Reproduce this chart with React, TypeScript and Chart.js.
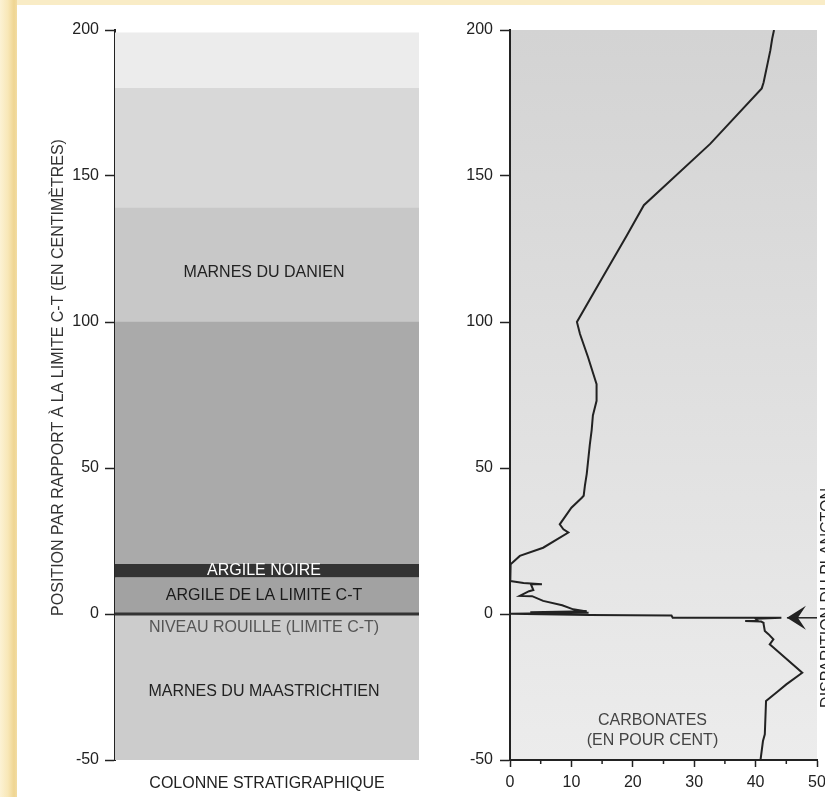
import React, { useEffect, useRef } from 'react';
import { Chart, registerables } from 'chart.js';

Chart.register(...registerables);

// ---------- DATA ----------
// Stratigraphic column bands (position in cm relative to the C-T boundary)
const bandNames = [
  'Marnes du Maastrichtien',
  'Argile de la limite C-T',
  'Argile noire',
  'Danien basal',
  'Marnes du Danien',
  'Danien moyen',
  'Danien supérieur',
];
const bandBottom = [-50, 0, 12.5, 17, 100, 139, 180];
const bandTop = [0, 12.5, 17, 100, 139, 180, 199];

const columnLabels = [
  'MARNES DU DANIEN',
  'ARGILE NOIRE',
  'ARGILE DE LA LIMITE C-T',
  'NIVEAU ROUILLE (LIMITE C-T)',
  'MARNES DU MAASTRICHTIEN',
];
const columnLabelPos = [117, 14.7, 6.2, -4.5, -26.6];

const columnCategory = ['COLONNE STRATIGRAPHIQUE'];
const positionTitle = 'POSITION PAR RAPPORT À LA LIMITE C-T (EN CENTIMÈTRES)';
const positionTitlePos = 81;

// Carbonate curve (position cm, carbonate %)
const carbonatePos = [
  200, 197, 193, 189, 185, 182, 180, 161, 140, 129.5, 114.6, 100, 95.9, 88, 82, 78.7,
  73, 68, 63, 58, 52, 48, 44, 40.5, 39.8, 36.4, 30.7, 29.0, 27.9, 22.7, 19.9, 17.0,
  11.5, 11.3, 10.6, 10.2, 10.2, 8.2, 7.8, 6.2, 6.1, 4.5, 3.0, 1.6, 0.9, 0.6, 0.45,
  0.1, -0.3, -0.5, -1.3, -1.3, -1.6, -2.4, -2.4, -2.6, -3.0, -3.4, -5.8, -6.9, -8.7,
  -10.4, -11.5, -20.1, -24.1, -26.4, -29.8, -41.2, -43.5, -50,
];
const carbonatePct = [
  43.0, 42.7, 42.4, 42.0, 41.6, 41.3, 41.0, 32.6, 21.8, 19.0, 14.9, 10.9, 11.4, 12.7, 13.6, 14.1,
  14.1, 13.5, 13.3, 13.0, 12.7, 12.5, 12.2, 12.0, 11.7, 10.0, 8.1, 8.7, 9.5, 5.4, 1.6, 0.1,
  0.0, 0.1, 2.2, 5.2, 3.4, 3.8, 3.1, 1.6, 3.6, 5.4, 8.5, 10.3, 12.5, 3.3, 12.8,
  0.0, 13.0, 26.3, 26.5, 44.2, 40.0, 40.4, 38.3, 40.9, 41.3, 41.3, 41.5, 42.1, 42.9,
  42.3, 42.9, 47.6, 45.0, 43.7, 41.7, 41.5, 41.2, 40.8,
];

const percentMinorTicks = [5, 15, 25, 35, 45];
const carbonateTitleLines = ['CARBONATES', '(EN POUR CENT)'];
const carbonateTitlePos = [-36.4, -43.5];
const carbonateTitlePct = 23.2;

const arrowLabel = 'DISPARITION DU PLANCTON';
const arrowPos = -1.3;
const arrowTipPct = 45.1;
const arrowLabelPos = 5.5;

// ---------- STYLE ----------
const FONT = "'Liberation Sans', Arial, Helvetica, sans-serif";
const bandColors = ['#cccccc', '#a2a2a2', '#333333', '#aaaaaa', '#c8c8c8', '#d8d8d8', '#ececec'];
const columnLabelColors = ['#222222', '#ffffff', '#1a1a1a', '#555555', '#222222'];

export default function App() {
  const leftRef = useRef<HTMLCanvasElement | null>(null);
  const rightRef = useRef<HTMLCanvasElement | null>(null);

  useEffect(() => {
    Chart.defaults.font.family = FONT;
    Chart.defaults.font.size = 16;
    Chart.defaults.color = '#222';

    const leftDecor = {
      id: 'leftDecor',
      afterDatasetsDraw(chart: any) {
        const { ctx, chartArea } = chart;
        const y = chart.scales.y;
        const cx = (chartArea.left + chartArea.right) / 2 - 3;
        ctx.save();
        const y0 = y.getPixelForValue(0);
        ctx.strokeStyle = '#333';
        ctx.lineWidth = 3;
        ctx.beginPath();
        ctx.moveTo(chartArea.left, y0);
        ctx.lineTo(chartArea.right, y0);
        ctx.stroke();
        ctx.font = `16px ${FONT}`;
        ctx.textAlign = 'center';
        ctx.textBaseline = 'middle';
        columnLabels.forEach((t, i) => {
          ctx.fillStyle = columnLabelColors[i];
          ctx.fillText(t, cx, y.getPixelForValue(columnLabelPos[i]));
        });
        ctx.translate(59, y.getPixelForValue(positionTitlePos));
        ctx.rotate(-Math.PI / 2);
        ctx.fillStyle = '#333';
        ctx.fillText(positionTitle, 0, 0);
        ctx.restore();
      },
    };

    const rightDecor = {
      id: 'rightDecor',
      beforeDraw(chart: any) {
        const { ctx, chartArea } = chart;
        const g = ctx.createLinearGradient(0, chartArea.top, 0, chartArea.bottom);
        g.addColorStop(0, '#d3d3d3');
        g.addColorStop(1, '#ececec');
        ctx.save();
        ctx.fillStyle = g;
        ctx.fillRect(chartArea.left, chartArea.top, chartArea.right - chartArea.left, chartArea.bottom - chartArea.top);
        ctx.restore();
      },
      afterDraw(chart: any) {
        const { ctx, chartArea } = chart;
        const xs = chart.scales.x;
        const ys = chart.scales.y;
        ctx.save();
        // minor ticks
        ctx.strokeStyle = '#222';
        ctx.lineWidth = 1.5;
        percentMinorTicks.forEach((v) => {
          const px = xs.getPixelForValue(v);
          ctx.beginPath();
          ctx.moveTo(px, chartArea.bottom);
          ctx.lineTo(px, chartArea.bottom + 4);
          ctx.stroke();
        });
        // title inside plot
        ctx.font = `16px ${FONT}`;
        ctx.fillStyle = '#444';
        ctx.textAlign = 'center';
        ctx.textBaseline = 'middle';
        carbonateTitleLines.forEach((t, i) => {
          ctx.fillText(t, xs.getPixelForValue(carbonateTitlePct), ys.getPixelForValue(carbonateTitlePos[i]));
        });
        // arrow
        const ay = ys.getPixelForValue(arrowPos);
        const tip = xs.getPixelForValue(arrowTipPct);
        ctx.fillStyle = '#222';
        ctx.beginPath();
        ctx.moveTo(tip, ay);
        ctx.lineTo(tip + 19, ay - 12);
        ctx.lineTo(tip + 11, ay);
        ctx.lineTo(tip + 19, ay + 12);
        ctx.closePath();
        ctx.fill();
        ctx.beginPath();
        ctx.moveTo(tip, ay);
        ctx.lineTo(chartArea.right, ay);
        ctx.stroke();
        // rotated label at right edge
        ctx.translate(chartArea.right + 3, ys.getPixelForValue(arrowLabelPos));
        ctx.rotate(-Math.PI / 2);
        ctx.textBaseline = 'top';
        ctx.fillStyle = '#222';
        ctx.fillText(arrowLabel, 0, 0);
        ctx.restore();
      },
    };

    const left = new Chart(leftRef.current as HTMLCanvasElement, {
      type: 'bar',
      data: {
        labels: columnCategory,
        datasets: bandNames.map((name, i) => ({
          label: name,
          data: [[bandBottom[i], bandTop[i]]] as any,
          backgroundColor: bandColors[i],
          borderWidth: 0,
          barPercentage: 1,
          categoryPercentage: 1,
          grouped: false,
        })),
      },
      options: {
        responsive: false,
        animation: false,
        layout: { padding: { top: 30, right: 11, bottom: 0, left: 0 } },
        plugins: { legend: { display: false }, tooltip: { enabled: false } },
        scales: {
          x: {
            grid: { display: false },
            border: { display: false },
            ticks: { color: '#222', font: { size: 16 }, padding: 6 },
            afterFit: (s: any) => { s.height = 37; s.paddingLeft = 0; s.paddingRight = 0; },
          },
          y: {
            min: -50,
            max: 200,
            ticks: { stepSize: 50, padding: 6, color: '#222', font: { size: 16 } },
            grid: { drawOnChartArea: false, tickLength: 10, tickColor: '#222', tickWidth: 1.5 },
            border: { color: '#222', width: 2 },
            afterFit: (s: any) => { s.width = 115; },
          },
        },
      },
      plugins: [leftDecor],
    } as any);

    const right = new Chart(rightRef.current as HTMLCanvasElement, {
      type: 'scatter',
      data: {
        datasets: [
          {
            label: 'Carbonates',
            data: carbonatePos.map((p, i) => ({ x: carbonatePct[i], y: p })),
            showLine: true,
            borderColor: '#222',
            borderWidth: 2,
            pointRadius: 0,
            fill: false,
            tension: 0,
          },
        ],
      },
      options: {
        responsive: false,
        animation: false,
        layout: { padding: { top: 30, right: 8, bottom: 0, left: 0 } },
        plugins: { legend: { display: false }, tooltip: { enabled: false } },
        scales: {
          x: {
            type: 'linear',
            min: 0,
            max: 50,
            ticks: { stepSize: 10, padding: 6, color: '#222', font: { size: 16 } },
            grid: { drawOnChartArea: false, tickLength: 7, tickColor: '#222', tickWidth: 1.5 },
            border: { color: '#222', width: 2 },
            afterFit: (s: any) => { s.height = 37; s.paddingLeft = 0; s.paddingRight = 0; },
          },
          y: {
            type: 'linear',
            min: -50,
            max: 200,
            ticks: { stepSize: 50, padding: 7, color: '#222', font: { size: 16 } },
            grid: { drawOnChartArea: false, tickLength: 10, tickColor: '#222', tickWidth: 1.5 },
            border: { color: '#222', width: 2 },
            afterFit: (s: any) => { s.width = 82; },
          },
        },
      },
      plugins: [rightDecor],
    } as any);

    return () => {
      left.destroy();
      right.destroy();
    };
  }, []);

  return (
    <div
      style={{
        position: 'fixed',
        left: 0,
        top: 0,
        width: 825,
        height: 797,
        overflow: 'hidden',
        background: '#f9ecc6',
      }}
    >
      <div
        style={{
          position: 'absolute',
          left: 0,
          top: 0,
          width: 17,
          height: 797,
          background: 'linear-gradient(to right, #fcf2d4 0px, #f8e7b7 8px, #efd592 14px, #f2dca2 17px)',
        }}
      />
      <div style={{ position: 'absolute', left: 17, top: 5, width: 808, height: 792, background: '#ffffff' }} />
      <canvas ref={leftRef} width={430} height={797} style={{ position: 'absolute', left: 0, top: 0 }} />
      <canvas ref={rightRef} width={397} height={797} style={{ position: 'absolute', left: 428, top: 0 }} />
    </div>
  );
}
